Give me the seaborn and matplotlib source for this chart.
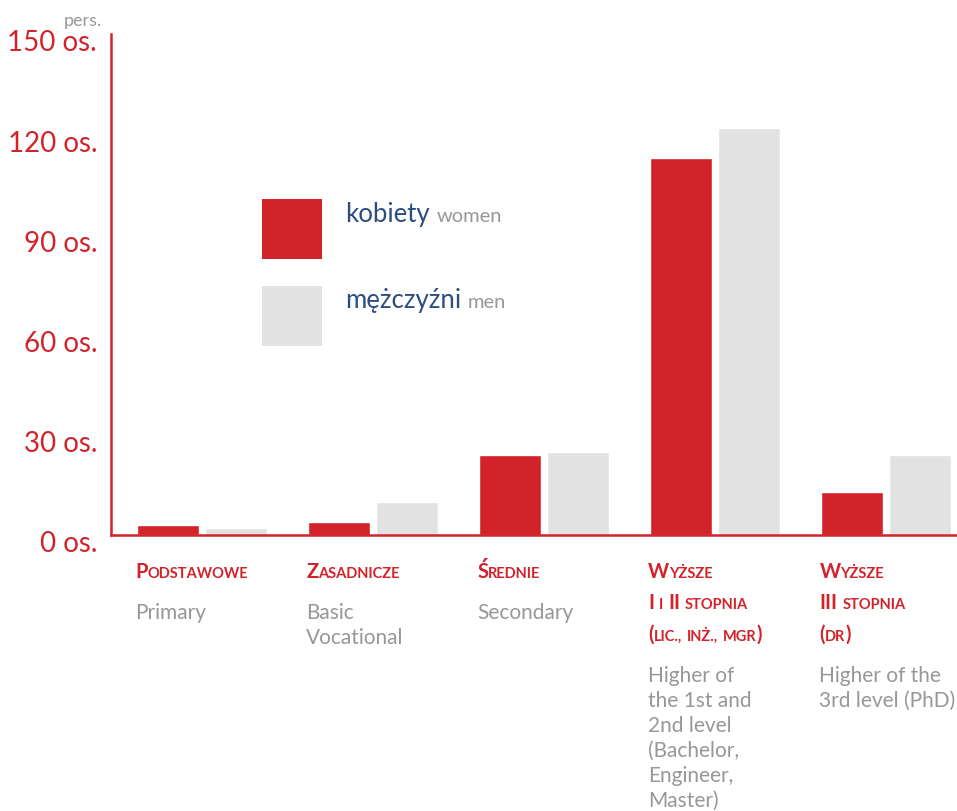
import matplotlib
matplotlib.use('Agg')
import matplotlib.pyplot as plt
import matplotlib.transforms as mtransforms
from matplotlib.patches import Rectangle
import pandas as pd
import seaborn as sns

# Data
categories = ['Podstawowe', 'Zasadnicze', 'Średnie', 'Wyższe I i II', 'Wyższe III']
women = [3, 4, 24, 113, 13]
men = [2, 10, 25, 122, 24]
labels_pl = [['Podstawowe'], ['Zasadnicze'], ['Średnie'],
             ['Wyższe', 'I i II stopnia', '(lic., inż., mgr)'],
             ['Wyższe', 'III stopnia', '(dr)']]
labels_en = [['Primary'], ['Basic', 'Vocational'], ['Secondary'],
             ['Higher of', 'the 1st and', '2nd level', '(Bachelor,', 'Engineer,', 'Master)'],
             ['Higher of the', '3rd level (PhD)']]
yticks = [0, 30, 60, 90, 120, 150]

RED = '#D2232A'
GREY = '#E1E2E1'
TEXT_GREY = '#979797'
BLUE = '#2c4d7e'

df = pd.DataFrame({
    'cat': categories * 2,
    'value': women + men,
    'sex': ['kobiety'] * len(women) + ['mężczyźni'] * len(men),
})

sns.set_style('white')
plt.rcParams['font.family'] = ['Lato', 'DejaVu Sans']

W, H = 957, 812
fig = plt.figure(figsize=(W / 100, H / 100), dpi=100)
ax = fig.add_axes([111 / W, 1 - 536 / H, 1 - 111 / W, (536 - 35) / H])

sns.barplot(data=df, x='cat', y='value', hue='sex', order=categories,
            palette=[RED, GREY], width=0.8, gap=0.09, saturation=1,
            legend=False, ax=ax, errorbar=None)

ax.set_xlim(-0.532, 4.415)
ax.set_ylim(0, 150)
ax.set_xlabel('')
ax.set_ylabel('')
ax.set_xticks([])
ax.set_yticks(yticks)
ax.set_yticklabels([f'{v} os.' for v in yticks])
ax.tick_params(axis='y', direction='in', length=15, width=1.8, color=RED,
               pad=10, labelsize=20, labelcolor=RED)
for lab in ax.get_yticklabels():
    lab.set_transform(lab.get_transform() + mtransforms.ScaledTranslation(0, -6 / 100, fig.dpi_scale_trans))

for side in ['top', 'right']:
    ax.spines[side].set_visible(False)
for side in ['left', 'bottom']:
    ax.spines[side].set_color(RED)
    ax.spines[side].set_linewidth(1.8)

fig.text(64 / W, 1 - 26 / H, 'pers.', fontsize=13, color=TEXT_GREY,
         va='baseline')

# category labels: red small caps + grey english text
trans = mtransforms.blended_transform_factory(ax.transData, fig.transFigure)


def caps_line(x, py, s):
    prev = None
    prev_size = None
    for wi, word in enumerate(s.split(' ')):
        runs = []
        for ch in word:
            big = ch.isupper() or ch in '()'
            if runs and runs[-1][0] == big:
                runs[-1][1] += ch
            else:
                runs.append([big, ch])
        for ri, (big, chunk) in enumerate(runs):
            size = 14.5 if big else 10.5
            kw = dict(fontsize=size, fontweight='bold', color=RED)
            if prev is None:
                prev = ax.text(x, 1 - py / H, chunk.upper(), transform=trans,
                               va='baseline', ha='left', **kw)
            else:
                dx = 3.5 if ri == 0 else 0
                dy = 0.19 * (prev_size - size)
                prev = ax.annotate(chunk.upper(), xy=(1, 0), xycoords=prev,
                                   xytext=(dx, dy), textcoords='offset points',
                                   va='bottom', ha='left', **kw)
            prev_size = size


for i, (pl, en) in enumerate(zip(labels_pl, labels_en)):
    x = i - 0.39
    base = 578
    for j, line in enumerate(pl):
        caps_line(x, base + 31.5 * j, line)
    base_en = base + 31.5 * (len(pl) - 1) + 41
    for j, line in enumerate(en):
        ax.text(x, 1 - (base_en + 25 * j) / H, line, transform=trans,
                fontsize=15, color=TEXT_GREY,
                va='baseline', ha='left')

# legend
legend_items = [('kobiety', 'women', RED, 200, 222),
                ('mężczyźni', 'men', GREY, 287, 308)]
for pl, en, col, top, base in legend_items:
    fig.add_artist(Rectangle((262 / W, 1 - (top + 60) / H), 60 / W, 60 / H,
                             transform=fig.transFigure, color=col, lw=0))
    t = fig.text(345 / W, 1 - base / H, pl, fontsize=18.5, color=BLUE,
                 va='baseline')
    ax.annotate(en, xy=(1, 0), xycoords=t, xytext=(5, 1.4),
                textcoords='offset points', fontsize=14.5, color=TEXT_GREY,
                va='bottom', ha='left')

fig.savefig('out.png', dpi=100)
